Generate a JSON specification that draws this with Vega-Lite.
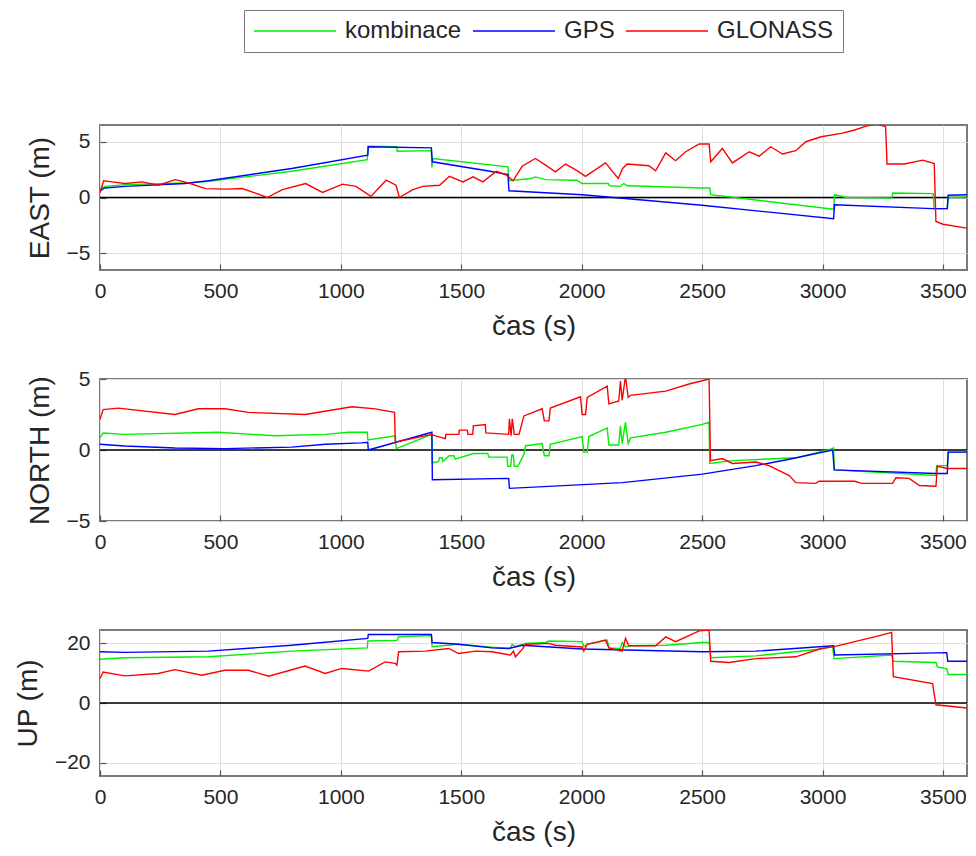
{
  "$schema": "https://vega.github.io/schema/vega-lite/v6.json",
  "background": "white",
  "padding": {"left": 13, "top": 9, "right": 5, "bottom": 5},
  "datasets": {
    "zero": [{"z": 0}],
    "pts": [
      {"p":"E","s":"kombinace","t":0,"v":0.8},{"p":"E","s":"kombinace","t":20,"v":1.0},{"p":"E","s":"kombinace","t":104,"v":1.15},{"p":"E","s":"kombinace","t":354,"v":1.3},{"p":"E","s":"kombinace","t":450,"v":1.45},{"p":"E","s":"kombinace","t":796,"v":2.35},{"p":"E","s":"kombinace","t":1110,"v":3.4},{"p":"E","s":"kombinace","t":1112,"v":4.6},{"p":"E","s":"kombinace","t":1232,"v":4.55},{"p":"E","s":"kombinace","t":1234,"v":4.15},{"p":"E","s":"kombinace","t":1376,"v":4.2},{"p":"E","s":"kombinace","t":1378,"v":2.7},{"p":"E","s":"kombinace","t":1382,"v":3.5},{"p":"E","s":"kombinace","t":1694,"v":2.75},{"p":"E","s":"kombinace","t":1698,"v":1.5},{"p":"E","s":"kombinace","t":1790,"v":1.7},{"p":"E","s":"kombinace","t":1808,"v":1.85},{"p":"E","s":"kombinace","t":1850,"v":1.6},{"p":"E","s":"kombinace","t":1980,"v":1.55},{"p":"E","s":"kombinace","t":2002,"v":1.25},{"p":"E","s":"kombinace","t":2110,"v":1.25},{"p":"E","s":"kombinace","t":2116,"v":1.05},{"p":"E","s":"kombinace","t":2160,"v":1.0},{"p":"E","s":"kombinace","t":2175,"v":1.25},{"p":"E","s":"kombinace","t":2190,"v":1.05},{"p":"E","s":"kombinace","t":2500,"v":0.85},{"p":"E","s":"kombinace","t":2532,"v":0.85},{"p":"E","s":"kombinace","t":2536,"v":0.25},{"p":"E","s":"kombinace","t":3046,"v":-1.05},{"p":"E","s":"kombinace","t":3050,"v":0.25},{"p":"E","s":"kombinace","t":3100,"v":0.0},{"p":"E","s":"kombinace","t":3287,"v":-0.05},{"p":"E","s":"kombinace","t":3292,"v":0.4},{"p":"E","s":"kombinace","t":3460,"v":0.35},{"p":"E","s":"kombinace","t":3463,"v":-1.0},{"p":"E","s":"kombinace","t":3518,"v":-1.0},{"p":"E","s":"kombinace","t":3522,"v":0.0},{"p":"E","s":"kombinace","t":3600,"v":0.05},

      {"p":"E","s":"GPS","t":0,"v":0.6},{"p":"E","s":"GPS","t":20,"v":0.85},{"p":"E","s":"GPS","t":104,"v":1.0},{"p":"E","s":"GPS","t":354,"v":1.25},{"p":"E","s":"GPS","t":450,"v":1.5},{"p":"E","s":"GPS","t":796,"v":2.6},{"p":"E","s":"GPS","t":1112,"v":3.8},{"p":"E","s":"GPS","t":1114,"v":4.55},{"p":"E","s":"GPS","t":1376,"v":4.45},{"p":"E","s":"GPS","t":1380,"v":3.2},{"p":"E","s":"GPS","t":1620,"v":2.35},{"p":"E","s":"GPS","t":1694,"v":2.05},{"p":"E","s":"GPS","t":1698,"v":0.6},{"p":"E","s":"GPS","t":2002,"v":0.24},{"p":"E","s":"GPS","t":2500,"v":-0.7},{"p":"E","s":"GPS","t":3046,"v":-1.9},{"p":"E","s":"GPS","t":3050,"v":-0.65},{"p":"E","s":"GPS","t":3457,"v":-1.0},{"p":"E","s":"GPS","t":3518,"v":-1.0},{"p":"E","s":"GPS","t":3522,"v":0.2},{"p":"E","s":"GPS","t":3600,"v":0.24},

      {"p":"E","s":"GLONASS","t":0,"v":0.4},{"p":"E","s":"GLONASS","t":15,"v":1.5},{"p":"E","s":"GLONASS","t":49,"v":1.4},{"p":"E","s":"GLONASS","t":104,"v":1.25},{"p":"E","s":"GLONASS","t":174,"v":1.4},{"p":"E","s":"GLONASS","t":243,"v":1.1},{"p":"E","s":"GLONASS","t":312,"v":1.6},{"p":"E","s":"GLONASS","t":368,"v":1.3},{"p":"E","s":"GLONASS","t":438,"v":0.8},{"p":"E","s":"GLONASS","t":521,"v":0.75},{"p":"E","s":"GLONASS","t":590,"v":0.8},{"p":"E","s":"GLONASS","t":646,"v":0.4},{"p":"E","s":"GLONASS","t":694,"v":0.0},{"p":"E","s":"GLONASS","t":757,"v":0.7},{"p":"E","s":"GLONASS","t":854,"v":1.25},{"p":"E","s":"GLONASS","t":924,"v":0.45},{"p":"E","s":"GLONASS","t":1007,"v":1.2},{"p":"E","s":"GLONASS","t":1063,"v":1.0},{"p":"E","s":"GLONASS","t":1125,"v":0.1},{"p":"E","s":"GLONASS","t":1188,"v":1.55},{"p":"E","s":"GLONASS","t":1229,"v":1.1},{"p":"E","s":"GLONASS","t":1243,"v":0.0},{"p":"E","s":"GLONASS","t":1299,"v":0.7},{"p":"E","s":"GLONASS","t":1340,"v":1.0},{"p":"E","s":"GLONASS","t":1410,"v":1.1},{"p":"E","s":"GLONASS","t":1451,"v":1.9},{"p":"E","s":"GLONASS","t":1507,"v":1.4},{"p":"E","s":"GLONASS","t":1549,"v":1.85},{"p":"E","s":"GLONASS","t":1590,"v":1.4},{"p":"E","s":"GLONASS","t":1646,"v":2.35},{"p":"E","s":"GLONASS","t":1688,"v":2.0},{"p":"E","s":"GLONASS","t":1715,"v":1.5},{"p":"E","s":"GLONASS","t":1753,"v":2.8},{"p":"E","s":"GLONASS","t":1808,"v":3.5},{"p":"E","s":"GLONASS","t":1850,"v":2.9},{"p":"E","s":"GLONASS","t":1891,"v":2.3},{"p":"E","s":"GLONASS","t":1933,"v":3.0},{"p":"E","s":"GLONASS","t":1974,"v":2.5},{"p":"E","s":"GLONASS","t":2016,"v":1.9},{"p":"E","s":"GLONASS","t":2099,"v":3.1},{"p":"E","s":"GLONASS","t":2152,"v":1.7},{"p":"E","s":"GLONASS","t":2170,"v":2.6},{"p":"E","s":"GLONASS","t":2189,"v":3.0},{"p":"E","s":"GLONASS","t":2279,"v":2.85},{"p":"E","s":"GLONASS","t":2307,"v":2.4},{"p":"E","s":"GLONASS","t":2349,"v":4.0},{"p":"E","s":"GLONASS","t":2390,"v":3.3},{"p":"E","s":"GLONASS","t":2432,"v":4.1},{"p":"E","s":"GLONASS","t":2488,"v":4.8},{"p":"E","s":"GLONASS","t":2529,"v":4.8},{"p":"E","s":"GLONASS","t":2536,"v":3.2},{"p":"E","s":"GLONASS","t":2584,"v":4.4},{"p":"E","s":"GLONASS","t":2626,"v":3.1},{"p":"E","s":"GLONASS","t":2696,"v":4.1},{"p":"E","s":"GLONASS","t":2737,"v":3.7},{"p":"E","s":"GLONASS","t":2785,"v":4.55},{"p":"E","s":"GLONASS","t":2834,"v":3.9},{"p":"E","s":"GLONASS","t":2889,"v":4.2},{"p":"E","s":"GLONASS","t":2931,"v":5.0},{"p":"E","s":"GLONASS","t":2994,"v":5.45},{"p":"E","s":"GLONASS","t":3078,"v":5.75},{"p":"E","s":"GLONASS","t":3134,"v":6.05},{"p":"E","s":"GLONASS","t":3175,"v":6.35},{"p":"E","s":"GLONASS","t":3220,"v":6.6},{"p":"E","s":"GLONASS","t":3262,"v":6.35},{"p":"E","s":"GLONASS","t":3268,"v":3.0},{"p":"E","s":"GLONASS","t":3340,"v":3.0},{"p":"E","s":"GLONASS","t":3416,"v":3.35},{"p":"E","s":"GLONASS","t":3464,"v":3.05},{"p":"E","s":"GLONASS","t":3471,"v":-2.15},{"p":"E","s":"GLONASS","t":3500,"v":-2.4},{"p":"E","s":"GLONASS","t":3600,"v":-2.75},

      {"p":"N","s":"kombinace","t":0,"v":0.85},{"p":"N","s":"kombinace","t":13,"v":1.2},{"p":"N","s":"kombinace","t":103,"v":1.1},{"p":"N","s":"kombinace","t":491,"v":1.25},{"p":"N","s":"kombinace","t":727,"v":1.0},{"p":"N","s":"kombinace","t":935,"v":1.1},{"p":"N","s":"kombinace","t":1032,"v":1.25},{"p":"N","s":"kombinace","t":1110,"v":1.25},{"p":"N","s":"kombinace","t":1112,"v":0.7},{"p":"N","s":"kombinace","t":1226,"v":1.0},{"p":"N","s":"kombinace","t":1230,"v":0.1},{"p":"N","s":"kombinace","t":1378,"v":1.1},{"p":"N","s":"kombinace","t":1380,"v":-0.9},{"p":"N","s":"kombinace","t":1406,"v":-0.8},{"p":"N","s":"kombinace","t":1410,"v":-0.55},{"p":"N","s":"kombinace","t":1420,"v":-0.55},{"p":"N","s":"kombinace","t":1424,"v":-0.8},{"p":"N","s":"kombinace","t":1450,"v":-0.4},{"p":"N","s":"kombinace","t":1470,"v":-0.4},{"p":"N","s":"kombinace","t":1475,"v":-0.65},{"p":"N","s":"kombinace","t":1550,"v":-0.25},{"p":"N","s":"kombinace","t":1610,"v":-0.25},{"p":"N","s":"kombinace","t":1615,"v":-0.5},{"p":"N","s":"kombinace","t":1690,"v":-0.5},{"p":"N","s":"kombinace","t":1693,"v":-1.15},{"p":"N","s":"kombinace","t":1705,"v":-1.15},{"p":"N","s":"kombinace","t":1710,"v":-0.35},{"p":"N","s":"kombinace","t":1716,"v":-0.35},{"p":"N","s":"kombinace","t":1720,"v":-1.15},{"p":"N","s":"kombinace","t":1735,"v":-1.15},{"p":"N","s":"kombinace","t":1760,"v":-0.3},{"p":"N","s":"kombinace","t":1767,"v":0.3},{"p":"N","s":"kombinace","t":1836,"v":0.45},{"p":"N","s":"kombinace","t":1845,"v":-0.4},{"p":"N","s":"kombinace","t":1864,"v":-0.4},{"p":"N","s":"kombinace","t":1870,"v":0.4},{"p":"N","s":"kombinace","t":2002,"v":0.95},{"p":"N","s":"kombinace","t":2009,"v":-0.15},{"p":"N","s":"kombinace","t":2023,"v":-0.15},{"p":"N","s":"kombinace","t":2030,"v":0.95},{"p":"N","s":"kombinace","t":2106,"v":1.55},{"p":"N","s":"kombinace","t":2113,"v":0.35},{"p":"N","s":"kombinace","t":2154,"v":0.35},{"p":"N","s":"kombinace","t":2161,"v":1.7},{"p":"N","s":"kombinace","t":2168,"v":0.45},{"p":"N","s":"kombinace","t":2182,"v":1.95},{"p":"N","s":"kombinace","t":2193,"v":0.45},{"p":"N","s":"kombinace","t":2203,"v":0.85},{"p":"N","s":"kombinace","t":2349,"v":1.25},{"p":"N","s":"kombinace","t":2501,"v":1.8},{"p":"N","s":"kombinace","t":2529,"v":1.95},{"p":"N","s":"kombinace","t":2532,"v":-0.95},{"p":"N","s":"kombinace","t":2626,"v":-0.75},{"p":"N","s":"kombinace","t":2889,"v":-0.55},{"p":"N","s":"kombinace","t":3042,"v":0.1},{"p":"N","s":"kombinace","t":3046,"v":0.15},{"p":"N","s":"kombinace","t":3049,"v":-1.4},{"p":"N","s":"kombinace","t":3471,"v":-1.8},{"p":"N","s":"kombinace","t":3474,"v":-1.1},{"p":"N","s":"kombinace","t":3518,"v":-1.1},{"p":"N","s":"kombinace","t":3522,"v":-0.15},{"p":"N","s":"kombinace","t":3600,"v":-0.15},

      {"p":"N","s":"GPS","t":0,"v":0.4},{"p":"N","s":"GPS","t":103,"v":0.28},{"p":"N","s":"GPS","t":311,"v":0.14},{"p":"N","s":"GPS","t":519,"v":0.1},{"p":"N","s":"GPS","t":796,"v":0.2},{"p":"N","s":"GPS","t":935,"v":0.4},{"p":"N","s":"GPS","t":1087,"v":0.5},{"p":"N","s":"GPS","t":1112,"v":0.55},{"p":"N","s":"GPS","t":1114,"v":0.0},{"p":"N","s":"GPS","t":1378,"v":1.25},{"p":"N","s":"GPS","t":1380,"v":-2.1},{"p":"N","s":"GPS","t":1697,"v":-2.0},{"p":"N","s":"GPS","t":1700,"v":-2.7},{"p":"N","s":"GPS","t":2169,"v":-2.3},{"p":"N","s":"GPS","t":2501,"v":-1.7},{"p":"N","s":"GPS","t":2723,"v":-1.1},{"p":"N","s":"GPS","t":2862,"v":-0.65},{"p":"N","s":"GPS","t":3042,"v":0.0},{"p":"N","s":"GPS","t":3049,"v":-1.4},{"p":"N","s":"GPS","t":3471,"v":-1.65},{"p":"N","s":"GPS","t":3518,"v":-1.65},{"p":"N","s":"GPS","t":3522,"v":-0.15},{"p":"N","s":"GPS","t":3600,"v":-0.15},

      {"p":"N","s":"GLONASS","t":0,"v":2.15},{"p":"N","s":"GLONASS","t":13,"v":2.85},{"p":"N","s":"GLONASS","t":76,"v":2.95},{"p":"N","s":"GLONASS","t":311,"v":2.5},{"p":"N","s":"GLONASS","t":408,"v":2.9},{"p":"N","s":"GLONASS","t":519,"v":2.9},{"p":"N","s":"GLONASS","t":616,"v":2.65},{"p":"N","s":"GLONASS","t":852,"v":2.5},{"p":"N","s":"GLONASS","t":1046,"v":3.05},{"p":"N","s":"GLONASS","t":1143,"v":2.9},{"p":"N","s":"GLONASS","t":1223,"v":2.65},{"p":"N","s":"GLONASS","t":1226,"v":0.55},{"p":"N","s":"GLONASS","t":1378,"v":1.1},{"p":"N","s":"GLONASS","t":1392,"v":1.0},{"p":"N","s":"GLONASS","t":1434,"v":0.8},{"p":"N","s":"GLONASS","t":1436,"v":1.1},{"p":"N","s":"GLONASS","t":1490,"v":1.1},{"p":"N","s":"GLONASS","t":1492,"v":1.4},{"p":"N","s":"GLONASS","t":1525,"v":1.4},{"p":"N","s":"GLONASS","t":1528,"v":1.1},{"p":"N","s":"GLONASS","t":1548,"v":1.1},{"p":"N","s":"GLONASS","t":1550,"v":1.7},{"p":"N","s":"GLONASS","t":1600,"v":1.8},{"p":"N","s":"GLONASS","t":1602,"v":1.2},{"p":"N","s":"GLONASS","t":1697,"v":1.1},{"p":"N","s":"GLONASS","t":1700,"v":2.2},{"p":"N","s":"GLONASS","t":1707,"v":1.0},{"p":"N","s":"GLONASS","t":1712,"v":2.2},{"p":"N","s":"GLONASS","t":1720,"v":1.1},{"p":"N","s":"GLONASS","t":1740,"v":1.1},{"p":"N","s":"GLONASS","t":1760,"v":2.4},{"p":"N","s":"GLONASS","t":1836,"v":2.9},{"p":"N","s":"GLONASS","t":1845,"v":2.05},{"p":"N","s":"GLONASS","t":1864,"v":2.05},{"p":"N","s":"GLONASS","t":1870,"v":2.95},{"p":"N","s":"GLONASS","t":1995,"v":3.75},{"p":"N","s":"GLONASS","t":2002,"v":2.5},{"p":"N","s":"GLONASS","t":2016,"v":2.5},{"p":"N","s":"GLONASS","t":2023,"v":3.7},{"p":"N","s":"GLONASS","t":2106,"v":4.5},{"p":"N","s":"GLONASS","t":2113,"v":3.25},{"p":"N","s":"GLONASS","t":2154,"v":3.45},{"p":"N","s":"GLONASS","t":2161,"v":4.85},{"p":"N","s":"GLONASS","t":2168,"v":3.5},{"p":"N","s":"GLONASS","t":2182,"v":5.2},{"p":"N","s":"GLONASS","t":2193,"v":3.7},{"p":"N","s":"GLONASS","t":2203,"v":3.85},{"p":"N","s":"GLONASS","t":2349,"v":4.15},{"p":"N","s":"GLONASS","t":2446,"v":4.65},{"p":"N","s":"GLONASS","t":2529,"v":5.0},{"p":"N","s":"GLONASS","t":2535,"v":-0.75},{"p":"N","s":"GLONASS","t":2584,"v":-0.6},{"p":"N","s":"GLONASS","t":2626,"v":-0.95},{"p":"N","s":"GLONASS","t":2723,"v":-0.85},{"p":"N","s":"GLONASS","t":2778,"v":-1.1},{"p":"N","s":"GLONASS","t":2862,"v":-1.8},{"p":"N","s":"GLONASS","t":2889,"v":-2.3},{"p":"N","s":"GLONASS","t":2972,"v":-2.35},{"p":"N","s":"GLONASS","t":2986,"v":-2.2},{"p":"N","s":"GLONASS","t":3134,"v":-2.2},{"p":"N","s":"GLONASS","t":3162,"v":-2.35},{"p":"N","s":"GLONASS","t":3291,"v":-2.35},{"p":"N","s":"GLONASS","t":3305,"v":-1.95},{"p":"N","s":"GLONASS","t":3360,"v":-2.0},{"p":"N","s":"GLONASS","t":3402,"v":-2.5},{"p":"N","s":"GLONASS","t":3471,"v":-2.55},{"p":"N","s":"GLONASS","t":3477,"v":-1.15},{"p":"N","s":"GLONASS","t":3519,"v":-1.3},{"p":"N","s":"GLONASS","t":3600,"v":-1.3},

      {"p":"U","s":"kombinace","t":0,"v":14.7},{"p":"U","s":"kombinace","t":103,"v":15.2},{"p":"U","s":"kombinace","t":450,"v":15.5},{"p":"U","s":"kombinace","t":796,"v":17.4},{"p":"U","s":"kombinace","t":1110,"v":18.5},{"p":"U","s":"kombinace","t":1112,"v":20.8},{"p":"U","s":"kombinace","t":1233,"v":21.0},{"p":"U","s":"kombinace","t":1240,"v":22.2},{"p":"U","s":"kombinace","t":1376,"v":22.6},{"p":"U","s":"kombinace","t":1379,"v":18.9},{"p":"U","s":"kombinace","t":1489,"v":19.7},{"p":"U","s":"kombinace","t":1628,"v":18.7},{"p":"U","s":"kombinace","t":1704,"v":18.3},{"p":"U","s":"kombinace","t":1711,"v":19.7},{"p":"U","s":"kombinace","t":1725,"v":18.9},{"p":"U","s":"kombinace","t":1767,"v":20.0},{"p":"U","s":"kombinace","t":1850,"v":20.3},{"p":"U","s":"kombinace","t":1864,"v":20.8},{"p":"U","s":"kombinace","t":2002,"v":20.6},{"p":"U","s":"kombinace","t":2009,"v":18.9},{"p":"U","s":"kombinace","t":2023,"v":19.7},{"p":"U","s":"kombinace","t":2106,"v":21.1},{"p":"U","s":"kombinace","t":2113,"v":18.5},{"p":"U","s":"kombinace","t":2161,"v":18.3},{"p":"U","s":"kombinace","t":2168,"v":20.3},{"p":"U","s":"kombinace","t":2182,"v":18.9},{"p":"U","s":"kombinace","t":2203,"v":19.2},{"p":"U","s":"kombinace","t":2349,"v":19.4},{"p":"U","s":"kombinace","t":2501,"v":20.3},{"p":"U","s":"kombinace","t":2529,"v":20.3},{"p":"U","s":"kombinace","t":2536,"v":15.2},{"p":"U","s":"kombinace","t":2723,"v":15.8},{"p":"U","s":"kombinace","t":2994,"v":18.1},{"p":"U","s":"kombinace","t":3042,"v":18.9},{"p":"U","s":"kombinace","t":3048,"v":14.9},{"p":"U","s":"kombinace","t":3287,"v":16.1},{"p":"U","s":"kombinace","t":3294,"v":14.0},{"p":"U","s":"kombinace","t":3471,"v":13.6},{"p":"U","s":"kombinace","t":3477,"v":12.1},{"p":"U","s":"kombinace","t":3516,"v":11.5},{"p":"U","s":"kombinace","t":3522,"v":9.55},{"p":"U","s":"kombinace","t":3600,"v":9.55},

      {"p":"U","s":"GPS","t":0,"v":17.2},{"p":"U","s":"GPS","t":103,"v":17.0},{"p":"U","s":"GPS","t":450,"v":17.4},{"p":"U","s":"GPS","t":796,"v":19.4},{"p":"U","s":"GPS","t":1112,"v":21.7},{"p":"U","s":"GPS","t":1114,"v":23.0},{"p":"U","s":"GPS","t":1376,"v":23.0},{"p":"U","s":"GPS","t":1379,"v":20.3},{"p":"U","s":"GPS","t":1489,"v":19.7},{"p":"U","s":"GPS","t":1628,"v":18.5},{"p":"U","s":"GPS","t":1697,"v":18.3},{"p":"U","s":"GPS","t":1753,"v":19.4},{"p":"U","s":"GPS","t":2002,"v":18.1},{"p":"U","s":"GPS","t":2501,"v":17.2},{"p":"U","s":"GPS","t":2723,"v":17.4},{"p":"U","s":"GPS","t":3046,"v":19.2},{"p":"U","s":"GPS","t":3050,"v":16.1},{"p":"U","s":"GPS","t":3516,"v":16.9},{"p":"U","s":"GPS","t":3520,"v":14.0},{"p":"U","s":"GPS","t":3600,"v":14.0},

      {"p":"U","s":"GLONASS","t":0,"v":8.2},{"p":"U","s":"GLONASS","t":13,"v":10.4},{"p":"U","s":"GLONASS","t":103,"v":9.1},{"p":"U","s":"GLONASS","t":242,"v":9.9},{"p":"U","s":"GLONASS","t":311,"v":11.2},{"p":"U","s":"GLONASS","t":422,"v":9.3},{"p":"U","s":"GLONASS","t":519,"v":11.0},{"p":"U","s":"GLONASS","t":616,"v":11.0},{"p":"U","s":"GLONASS","t":700,"v":9.0},{"p":"U","s":"GLONASS","t":852,"v":12.4},{"p":"U","s":"GLONASS","t":935,"v":9.9},{"p":"U","s":"GLONASS","t":1004,"v":11.6},{"p":"U","s":"GLONASS","t":1115,"v":10.7},{"p":"U","s":"GLONASS","t":1184,"v":13.8},{"p":"U","s":"GLONASS","t":1226,"v":13.3},{"p":"U","s":"GLONASS","t":1233,"v":12.7},{"p":"U","s":"GLONASS","t":1240,"v":17.2},{"p":"U","s":"GLONASS","t":1350,"v":17.4},{"p":"U","s":"GLONASS","t":1448,"v":18.3},{"p":"U","s":"GLONASS","t":1489,"v":16.6},{"p":"U","s":"GLONASS","t":1560,"v":17.4},{"p":"U","s":"GLONASS","t":1628,"v":17.2},{"p":"U","s":"GLONASS","t":1704,"v":16.1},{"p":"U","s":"GLONASS","t":1717,"v":17.4},{"p":"U","s":"GLONASS","t":1725,"v":15.5},{"p":"U","s":"GLONASS","t":1753,"v":18.0},{"p":"U","s":"GLONASS","t":1767,"v":19.7},{"p":"U","s":"GLONASS","t":1864,"v":20.0},{"p":"U","s":"GLONASS","t":1891,"v":19.4},{"p":"U","s":"GLONASS","t":2002,"v":18.8},{"p":"U","s":"GLONASS","t":2009,"v":17.4},{"p":"U","s":"GLONASS","t":2023,"v":19.7},{"p":"U","s":"GLONASS","t":2099,"v":21.1},{"p":"U","s":"GLONASS","t":2113,"v":18.5},{"p":"U","s":"GLONASS","t":2168,"v":17.4},{"p":"U","s":"GLONASS","t":2182,"v":21.7},{"p":"U","s":"GLONASS","t":2196,"v":19.2},{"p":"U","s":"GLONASS","t":2307,"v":19.2},{"p":"U","s":"GLONASS","t":2349,"v":22.2},{"p":"U","s":"GLONASS","t":2390,"v":20.6},{"p":"U","s":"GLONASS","t":2488,"v":24.2},{"p":"U","s":"GLONASS","t":2529,"v":24.5},{"p":"U","s":"GLONASS","t":2536,"v":14.0},{"p":"U","s":"GLONASS","t":2612,"v":13.6},{"p":"U","s":"GLONASS","t":2723,"v":14.9},{"p":"U","s":"GLONASS","t":2889,"v":15.5},{"p":"U","s":"GLONASS","t":2994,"v":18.3},{"p":"U","s":"GLONASS","t":3048,"v":18.9},{"p":"U","s":"GLONASS","t":3134,"v":20.6},{"p":"U","s":"GLONASS","t":3245,"v":22.8},{"p":"U","s":"GLONASS","t":3287,"v":23.7},{"p":"U","s":"GLONASS","t":3294,"v":8.8},{"p":"U","s":"GLONASS","t":3457,"v":6.5},{"p":"U","s":"GLONASS","t":3471,"v":-0.6},{"p":"U","s":"GLONASS","t":3600,"v":-1.7}
    ]
  },
  "spacing": 109,
  "bounds": "flush",
  "vconcat": [
    {
      "width": 867, "height": 145,
      "layer": [
        {"data": {"name": "zero"}, "mark": {"type": "rule", "color": "black", "strokeWidth": 1.6}, "encoding": {"y": {"field": "z", "type": "quantitative", "scale": {"domain": [-6.5, 6.5], "nice": false, "zero": false}}}},
        {"data": {"name": "pts"}, "transform": [{"filter": "datum.p === 'E'"}],
         "mark": {"type": "line", "strokeWidth": 1.4, "clip": true},
         "encoding": {
           "x": {"field": "t", "type": "quantitative", "scale": {"domain": [0, 3600], "nice": false, "zero": false}, "axis": {"values": [0,500,1000,1500,2000,2500,3000,3500], "format": "d", "title": "čas (s)"}},
           "y": {"field": "v", "type": "quantitative", "scale": {"domain": [-6.5, 6.5], "nice": false, "zero": false}, "axis": {"values": [-5,0,5], "title": "EAST (m)"}},
           "color": {"field": "s", "type": "nominal", "scale": {"domain": ["kombinace","GPS","GLONASS"], "range": ["#00ee00","#0000ff","#ff0000"]}, "legend": {"title": null}}
         }}
      ]
    },
    {
      "width": 867, "height": 142,
      "layer": [
        {"data": {"name": "zero"}, "mark": {"type": "rule", "color": "black", "strokeWidth": 1.6}, "encoding": {"y": {"field": "z", "type": "quantitative", "scale": {"domain": [-5, 5], "nice": false, "zero": false}}}},
        {"data": {"name": "pts"}, "transform": [{"filter": "datum.p === 'N'"}],
         "mark": {"type": "line", "strokeWidth": 1.4, "clip": true},
         "encoding": {
           "x": {"field": "t", "type": "quantitative", "scale": {"domain": [0, 3600], "nice": false, "zero": false}, "axis": {"values": [0,500,1000,1500,2000,2500,3000,3500], "format": "d", "title": "čas (s)"}},
           "y": {"field": "v", "type": "quantitative", "scale": {"domain": [-5, 5], "nice": false, "zero": false}, "axis": {"values": [-5,0,5], "title": "NORTH (m)"}},
           "color": {"field": "s", "type": "nominal", "scale": {"domain": ["kombinace","GPS","GLONASS"], "range": ["#00ee00","#0000ff","#ff0000"]}, "legend": {"title": null}}
         }}
      ]
    },
    {
      "width": 867, "height": 146,
      "layer": [
        {"data": {"name": "zero"}, "mark": {"type": "rule", "color": "black", "strokeWidth": 1.6}, "encoding": {"y": {"field": "z", "type": "quantitative", "scale": {"domain": [-24.5, 24.5], "nice": false, "zero": false}}}},
        {"data": {"name": "pts"}, "transform": [{"filter": "datum.p === 'U'"}],
         "mark": {"type": "line", "strokeWidth": 1.4, "clip": true},
         "encoding": {
           "x": {"field": "t", "type": "quantitative", "scale": {"domain": [0, 3600], "nice": false, "zero": false}, "axis": {"values": [0,500,1000,1500,2000,2500,3000,3500], "format": "d", "title": "čas (s)"}},
           "y": {"field": "v", "type": "quantitative", "scale": {"domain": [-24.5, 24.5], "nice": false, "zero": false}, "axis": {"values": [-20,0,20], "title": "UP (m)"}},
           "color": {"field": "s", "type": "nominal", "scale": {"domain": ["kombinace","GPS","GLONASS"], "range": ["#00ee00","#0000ff","#ff0000"]}, "legend": {"title": null}}
         }}
      ]
    }
  ],
  "config": {
    "font": "Liberation Sans",
    "view": {"stroke": "#7a7a7a", "strokeWidth": 2},
    "axis": {
      "grid": true, "gridColor": "#dedede", "gridWidth": 1,
      "domain": false, "ticks": true, "tickSize": -6, "tickColor": "#555555", "tickWidth": 1.2,
      "labelFont": "Liberation Sans", "labelFontSize": 21, "labelColor": "#262626",
      "titleFont": "Liberation Sans", "titleFontSize": 28, "titleFontWeight": "normal", "titleColor": "#262626",
      "labelFlush": false, "labelOverlap": false
    },
    "axisX": {"labelPadding": 16, "titlePadding": 11},
    "axisY": {"labelPadding": 16, "titlePadding": 12},
    "legend": {
      "orient": "none", "legendX": 144, "legendY": -115, "direction": "horizontal",
      "symbolType": "stroke", "symbolSize": 6724, "symbolStrokeWidth": 1.6,
      "clipHeight": 24,
      "labelFont": "Liberation Sans", "labelFontSize": 24, "labelColor": "#262626",
      "labelOffset": 8, "columnPadding": 10, "padding": 9,
      "strokeColor": "#7a7a7a", "fillColor": "white"
    }
  }
}
